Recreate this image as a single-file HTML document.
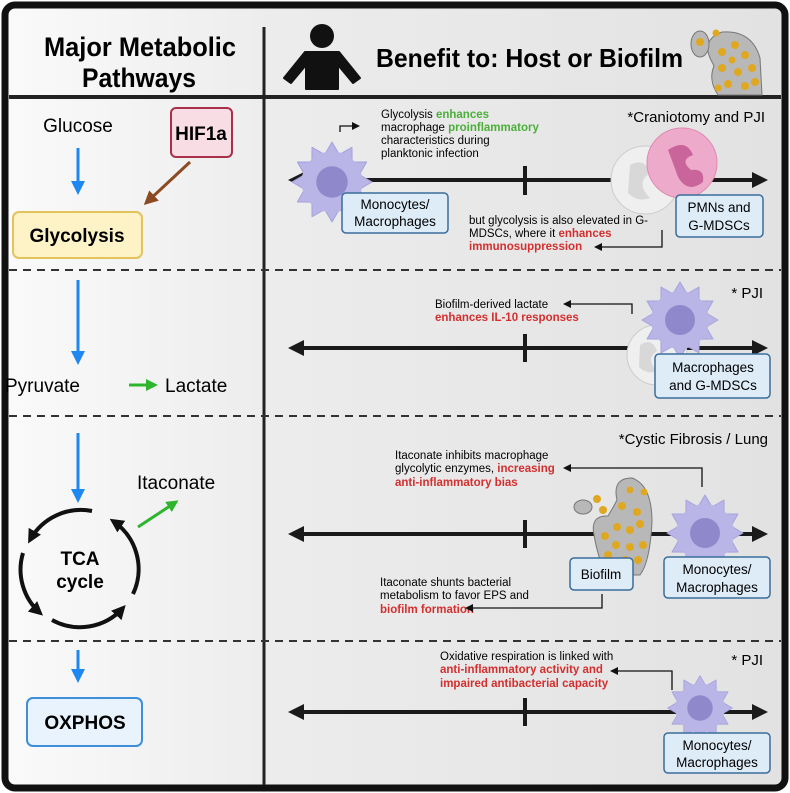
<!DOCTYPE html>
<html><head><meta charset="utf-8"><style>
html,body{margin:0;padding:0;background:#fff}
svg{display:block}
text{font-family:"Liberation Sans",sans-serif}
.b{font-weight:bold}
</style></head><body>
<svg width="790" height="793" viewBox="0 0 790 793" xmlns="http://www.w3.org/2000/svg">
<defs>
<linearGradient id="bg" x1="0" y1="0" x2="1" y2="0">
<stop offset="0" stop-color="#fafafa"/><stop offset="0.35" stop-color="#ececec"/><stop offset="1" stop-color="#e2e2e2"/></linearGradient>
<marker id="ak" markerWidth="8" markerHeight="8" refX="6" refY="4" orient="auto" markerUnits="userSpaceOnUse"><path d="M0,0L8,4L0,8z" fill="#111"/></marker>
<marker id="ag" markerWidth="12" markerHeight="12" refX="9" refY="6" orient="auto" markerUnits="userSpaceOnUse"><path d="M0,0L12,6L0,12z" fill="#2db52d"/></marker>
<marker id="abig" markerWidth="14" markerHeight="14" refX="11" refY="7" orient="auto" markerUnits="userSpaceOnUse"><path d="M0,0L14,7L0,14z" fill="#1e88f0"/></marker>
<marker id="abr" markerWidth="14" markerHeight="14" refX="11" refY="7" orient="auto" markerUnits="userSpaceOnUse"><path d="M0,0L14,7L0,14z" fill="#8b4a22"/></marker>
<marker id="akk" markerWidth="14" markerHeight="14" refX="10" refY="7" orient="auto" markerUnits="userSpaceOnUse"><path d="M0,0L14,7L0,14z" fill="#111"/></marker>
<marker id="tl" markerWidth="16" markerHeight="16" refX="12" refY="8" orient="auto-start-reverse" markerUnits="userSpaceOnUse"><path d="M0,0L16,8L0,16z" fill="#1a1a1a"/></marker>
<g id="mac">
<polygon points="38,0 26.1,7 33,19 19.1,19.1 19,33 7,26.1 0,38 -7,26.1 -19,33 -19.1,19.1 -33,19 -26.1,7 -38,0 -26.1,-7 -33,-19 -19.1,-19.1 -19,-33 -7,-26.1 0,-38 7,-26.1 19,-33 19.1,-19.1 33,-19 26.1,-7" fill="#b9b5e6" stroke="#a7a2dc" stroke-width="1" stroke-linejoin="round"/>
<circle r="29" fill="#b9b5e6"/>
<circle r="15" fill="#8f89cc"/>
</g>
</defs>
<rect x="5" y="5" width="780" height="783" rx="10" fill="url(#bg)" stroke="#111" stroke-width="7"/>
<line x1="264" y1="27" x2="264" y2="785" stroke="#222" stroke-width="3"/>
<line x1="9" y1="97" x2="781" y2="97" stroke="#222" stroke-width="4"/>
<g stroke="#333" stroke-width="2" stroke-dasharray="8,6">
<line x1="9" y1="270" x2="781" y2="270"/><line x1="9" y1="416" x2="781" y2="416"/><line x1="9" y1="641" x2="781" y2="641"/></g>

<!-- header -->
<text x="44" y="56" font-size="27" class="b" textLength="192" lengthAdjust="spacingAndGlyphs">Major Metabolic</text>
<text x="82" y="87" font-size="27" class="b" textLength="114" lengthAdjust="spacingAndGlyphs">Pathways</text>
<circle cx="322" cy="36" r="12" fill="#111"/>
<path d="M305,52 H339 L360,78 L353,83 L338,65 V89 H306 V65 L291,83 L284,78 Z" fill="#111" stroke="#111" stroke-width="2" stroke-linejoin="round"/>
<text x="376" y="67" font-size="26" class="b" textLength="307" lengthAdjust="spacingAndGlyphs">Benefit to: Host or Biofilm</text>
<path d="M712,62 Q700,40 722,32 Q752,30 760,58 L762,95 L718,95 Q708,80 714,66 Z" fill="#b8b8b8" stroke="#777"/>
<ellipse cx="700" cy="44" rx="9" ry="13" fill="#b8b8b8" stroke="#777"/>
<g fill="#e0a820"><circle cx="716" cy="33" r="3.5"/><circle cx="700" cy="42" r="4"/><circle cx="722" cy="52" r="4"/><circle cx="735" cy="45" r="4"/><circle cx="745" cy="55" r="4"/><circle cx="722" cy="68" r="4"/><circle cx="738" cy="72" r="4"/><circle cx="752" cy="68" r="4"/><circle cx="728" cy="84" r="4"/><circle cx="745" cy="86" r="4"/><circle cx="755" cy="82" r="4"/><circle cx="718" cy="88" r="3.5"/><circle cx="732" cy="60" r="3.5"/></g>

<!-- left panel 1 -->
<text x="78" y="132" font-size="19" text-anchor="middle">Glucose</text>
<rect x="171" y="108" width="61" height="49" rx="5" fill="#f8dde4" stroke="#a8304a" stroke-width="2"/>
<text x="201" y="140" font-size="19" class="b" text-anchor="middle">HIF1a</text>
<line x1="78" y1="148" x2="78" y2="192" stroke="#1e88f0" stroke-width="3" marker-end="url(#abig)"/>
<line x1="190" y1="162" x2="146" y2="203" stroke="#8b4a22" stroke-width="3" marker-end="url(#abr)"/>
<rect x="13" y="212" width="129" height="46" rx="6" fill="#fdf3c6" stroke="#e4c25c" stroke-width="2"/>
<text x="77" y="242" font-size="19" class="b" text-anchor="middle">Glycolysis</text>
<!-- left panel 2 -->
<line x1="78" y1="280" x2="78" y2="362" stroke="#1e88f0" stroke-width="3" marker-end="url(#abig)"/>
<text x="5" y="392" font-size="19">Pyruvate</text>
<line x1="129" y1="385" x2="155" y2="385" stroke="#2db52d" stroke-width="3" marker-end="url(#ag)"/>
<text x="165" y="392" font-size="19">Lactate</text>
<!-- left panel 3 -->
<line x1="78" y1="433" x2="78" y2="500" stroke="#1e88f0" stroke-width="3" marker-end="url(#abig)"/>
<text x="137" y="489" font-size="19">Itaconate</text>
<line x1="138" y1="527" x2="176" y2="502" stroke="#2db52d" stroke-width="3" marker-end="url(#ag)"/>
<g fill="none" stroke="#111" stroke-width="4">
<path d="M92,511 A58,58 0 0 0 30,540" marker-end="url(#akk)"/>
<path d="M23,553 A58,58 0 0 0 40,613" marker-end="url(#akk)"/>
<path d="M52,620 A58,58 0 0 0 123,608" marker-end="url(#akk)"/>
<path d="M133,594 A58,58 0 0 0 113,521" marker-end="url(#akk)"/>
</g>
<text x="80" y="565" font-size="19" class="b" text-anchor="middle">TCA</text>
<text x="80" y="588" font-size="19" class="b" text-anchor="middle">cycle</text>
<!-- left panel 4 -->
<line x1="78" y1="650" x2="78" y2="680" stroke="#1e88f0" stroke-width="3" marker-end="url(#abig)"/>
<rect x="27" y="698" width="115" height="48" rx="6" fill="#e8f3fd" stroke="#3d8fd9" stroke-width="2"/>
<text x="85" y="729" font-size="19" class="b" text-anchor="middle">OXPHOS</text>

<!-- timelines -->
<g stroke="#1a1a1a" stroke-width="4">
<line x1="292" y1="180" x2="764" y2="180" marker-start="url(#tl)" marker-end="url(#tl)"/>
<line x1="292" y1="348" x2="764" y2="348" marker-start="url(#tl)" marker-end="url(#tl)"/>
<line x1="292" y1="534" x2="764" y2="534" marker-start="url(#tl)" marker-end="url(#tl)"/>
<line x1="292" y1="712" x2="764" y2="712" marker-start="url(#tl)" marker-end="url(#tl)"/>
<line x1="525" y1="166" x2="525" y2="195"/><line x1="525" y1="334" x2="525" y2="362"/>
<line x1="525" y1="520" x2="525" y2="548"/><line x1="525" y1="698" x2="525" y2="726"/>
</g>

<!-- panel 1 right -->
<text x="765" y="122" font-size="15" text-anchor="end">*Craniotomy and PJI</text>
<g font-size="11.5">
<text x="381" y="118">Glycolysis <tspan fill="#4caf3a" class="b">enhances</tspan></text>
<text x="381" y="131">macrophage <tspan fill="#4caf3a" class="b">proinflammatory</tspan></text>
<text x="381" y="144">characteristics during</text>
<text x="381" y="157">planktonic infection</text>
<text x="469" y="224">but glycolysis is also elevated in G-</text>
<text x="469" y="237">MDSCs, where it <tspan fill="#d32f2f" class="b">enhances</tspan></text>
<text x="469" y="250" fill="#d32f2f" class="b">immunosuppression</text>
</g>
<path d="M340,132 V126 H358" fill="none" stroke="#111" stroke-width="1.3" marker-end="url(#ak)"/>
<path d="M662,230 V247 H596" fill="none" stroke="#111" stroke-width="1.3" marker-end="url(#ak)"/>
<use href="#mac" transform="translate(332,182) scale(1.05)"/>
<circle cx="645" cy="180" r="34" fill="#efefef" stroke="#ccc"/>
<path d="M630,165 q15,-8 20,8 q-15,10 0,25 q-12,5 -22,-5 z" fill="#d8d8d8"/>
<circle cx="682" cy="163" r="35" fill="#eeaacb" stroke="#e08ab0"/>
<path d="M668,150 q18,-12 25,5 q-14,5 -2,15 q14,-2 12,12 q-15,12 -25,-5 q-5,-14 -10,-27z" fill="#c9659a"/>
<rect x="342" y="193" width="106" height="40" rx="4" fill="#deecf8" stroke="#3a6d9c" stroke-width="1.5"/>
<text x="395" y="209" font-size="13.5" text-anchor="middle">Monocytes/</text>
<text x="395" y="226" font-size="13.5" text-anchor="middle">Macrophages</text>
<rect x="676" y="195" width="87" height="42" rx="4" fill="#deecf8" stroke="#3a6d9c" stroke-width="1.5"/>
<text x="719" y="212" font-size="13.5" text-anchor="middle">PMNs and</text>
<text x="719" y="230" font-size="13.5" text-anchor="middle">G-MDSCs</text>

<!-- panel 2 right -->
<text x="763" y="298" font-size="15" text-anchor="end">* PJI</text>
<text x="435" y="308" font-size="11.5">Biofilm-derived lactate</text>
<text x="435" y="321" font-size="11.5" fill="#d32f2f" class="b">enhances IL-10 responses</text>
<path d="M632,314 V304 H565" fill="none" stroke="#111" stroke-width="1.3" marker-end="url(#ak)"/>
<circle cx="657" cy="355" r="30" fill="#efefef" stroke="#ccc"/>
<path d="M640,345 q12,-8 17,6 q-12,8 0,20 q-10,4 -18,-4 z" fill="#d8d8d8"/>
<use href="#mac" transform="translate(680,320)"/>
<rect x="655" y="354" width="115" height="44" rx="4" fill="#deecf8" stroke="#3a6d9c" stroke-width="1.5"/>
<text x="713" y="372" font-size="13.5" text-anchor="middle">Macrophages</text>
<text x="713" y="390" font-size="13.5" text-anchor="middle">and G-MDSCs</text>

<!-- panel 3 right -->
<text x="768" y="444" font-size="15" text-anchor="end">*Cystic Fibrosis / Lung</text>
<g font-size="11.5">
<text x="395" y="459">Itaconate inhibits macrophage</text>
<text x="395" y="472">glycolytic enzymes, <tspan fill="#d32f2f" class="b">increasing</tspan></text>
<text x="395" y="486" fill="#d32f2f" class="b">anti-inflammatory bias</text>
<text x="380" y="586">Itaconate shunts bacterial</text>
<text x="380" y="599">metabolism to favor EPS and</text>
<text x="380" y="613" fill="#d32f2f" class="b">biofilm formation</text>
</g>
<path d="M702,487 V468 H565" fill="none" stroke="#111" stroke-width="1.3" marker-end="url(#ak)"/>
<path d="M602,594 V608 H467" fill="none" stroke="#111" stroke-width="1.3" marker-end="url(#ak)"/>
<path d="M594,535 Q590,515 608,516 Q614,506 617,500 Q612,478 632,478 Q652,485 652,522 Q650,562 640,575 L606,575 Q598,558 594,535Z" fill="#b8b8b8" stroke="#777"/>
<ellipse cx="583" cy="507" rx="9" ry="7" fill="#b8b8b8" stroke="#777"/>
<g fill="#e0a820"><circle cx="597" cy="499" r="4"/><circle cx="603" cy="510" r="4"/><circle cx="622" cy="506" r="4"/><circle cx="617" cy="527" r="4"/><circle cx="630" cy="530" r="4"/><circle cx="640" cy="524" r="4"/><circle cx="605" cy="536" r="4"/><circle cx="616" cy="545" r="4"/><circle cx="630" cy="547" r="4"/><circle cx="643" cy="545" r="4"/><circle cx="625" cy="560" r="4"/><circle cx="638" cy="560" r="4"/><circle cx="637" cy="512" r="4"/><circle cx="608" cy="555" r="4"/><circle cx="644" cy="492" r="3.5"/><circle cx="630" cy="490" r="3.5"/></g>
<use href="#mac" transform="translate(705,533) scale(1.0)"/>
<rect x="570" y="558" width="63" height="32" rx="4" fill="#deecf8" stroke="#3a6d9c" stroke-width="1.5"/>
<text x="601" y="579" font-size="13.5" text-anchor="middle">Biofilm</text>
<rect x="664" y="557" width="106" height="41" rx="4" fill="#deecf8" stroke="#3a6d9c" stroke-width="1.5"/>
<text x="717" y="574" font-size="13.5" text-anchor="middle">Monocytes/</text>
<text x="717" y="592" font-size="13.5" text-anchor="middle">Macrophages</text>

<!-- panel 4 right -->
<text x="763" y="665" font-size="15" text-anchor="end">* PJI</text>
<text x="440" y="660" font-size="11.5">Oxidative respiration is linked with</text>
<text x="440" y="673" font-size="11.5" fill="#d32f2f" class="b">anti-inflammatory activity and</text>
<text x="440" y="687" font-size="11.5" fill="#d32f2f" class="b">impaired antibacterial capacity</text>
<path d="M672,690 V671 H612" fill="none" stroke="#111" stroke-width="1.3" marker-end="url(#ak)"/>
<use href="#mac" transform="translate(700,708) scale(0.85)"/>
<rect x="664" y="733" width="106" height="40" rx="4" fill="#deecf8" stroke="#3a6d9c" stroke-width="1.5"/>
<text x="717" y="750" font-size="13.5" text-anchor="middle">Monocytes/</text>
<text x="717" y="767" font-size="13.5" text-anchor="middle">Macrophages</text>
</svg>
</body></html>
